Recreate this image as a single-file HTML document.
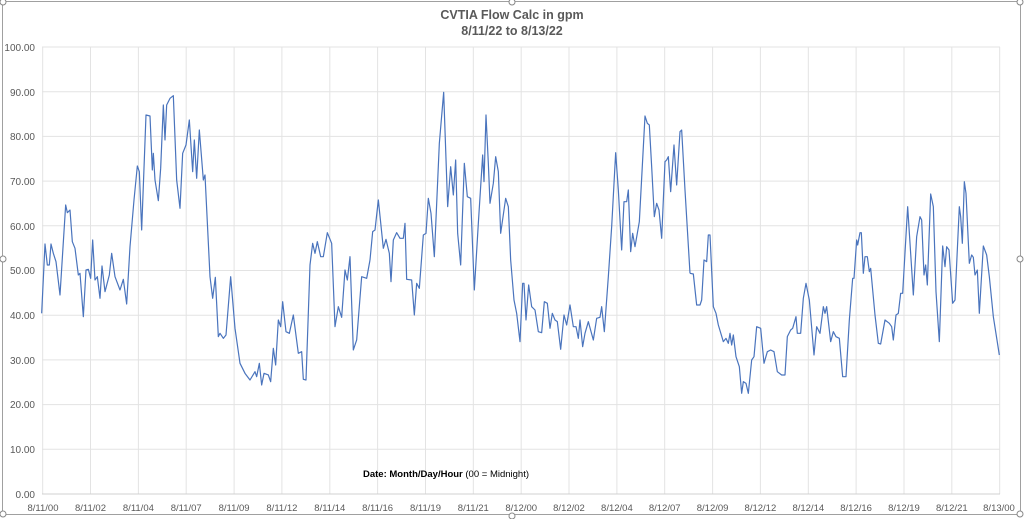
<!DOCTYPE html>
<html><head><style>
html,body{margin:0;padding:0;background:#fff;}
svg{display:block;font-family:"Liberation Sans",sans-serif;}
</style></head><body>
<svg width="1024" height="519" viewBox="0 0 1024 519">
<rect x="0" y="0" width="1024" height="519" fill="#fff"/>
<rect x="2.5" y="1.5" width="1018" height="513" fill="none" stroke="#a0a0a0" stroke-width="1"/>
<g stroke="#e3e3e3" stroke-width="1">
<line x1="42" y1="47" x2="1000" y2="47"/><line x1="42" y1="91.7" x2="1000" y2="91.7"/><line x1="42" y1="136.4" x2="1000" y2="136.4"/><line x1="42" y1="181.1" x2="1000" y2="181.1"/><line x1="42" y1="225.8" x2="1000" y2="225.8"/><line x1="42" y1="270.5" x2="1000" y2="270.5"/><line x1="42" y1="315.2" x2="1000" y2="315.2"/><line x1="42" y1="359.9" x2="1000" y2="359.9"/><line x1="42" y1="404.6" x2="1000" y2="404.6"/><line x1="42" y1="449.3" x2="1000" y2="449.3"/>
<line x1="42.7" y1="47" x2="42.7" y2="494"/><line x1="90.5" y1="47" x2="90.5" y2="494"/><line x1="138.4" y1="47" x2="138.4" y2="494"/><line x1="186.2" y1="47" x2="186.2" y2="494"/><line x1="234.1" y1="47" x2="234.1" y2="494"/><line x1="281.9" y1="47" x2="281.9" y2="494"/><line x1="329.8" y1="47" x2="329.8" y2="494"/><line x1="377.6" y1="47" x2="377.6" y2="494"/><line x1="425.5" y1="47" x2="425.5" y2="494"/><line x1="473.3" y1="47" x2="473.3" y2="494"/><line x1="521.2" y1="47" x2="521.2" y2="494"/><line x1="569" y1="47" x2="569" y2="494"/><line x1="616.9" y1="47" x2="616.9" y2="494"/><line x1="664.7" y1="47" x2="664.7" y2="494"/><line x1="712.6" y1="47" x2="712.6" y2="494"/><line x1="760.4" y1="47" x2="760.4" y2="494"/><line x1="808.3" y1="47" x2="808.3" y2="494"/><line x1="856.1" y1="47" x2="856.1" y2="494"/><line x1="904" y1="47" x2="904" y2="494"/><line x1="951.8" y1="47" x2="951.8" y2="494"/><line x1="999.7" y1="47" x2="999.7" y2="494"/>
</g>
<line x1="42" y1="494" x2="1000" y2="494" stroke="#d0d0d0"/>
<text x="512" y="19" text-anchor="middle" font-size="12.5" font-weight="bold" fill="#595959">CVTIA Flow Calc in gpm</text>
<text x="512" y="35" text-anchor="middle" font-size="12.5" font-weight="bold" fill="#595959">8/11/22 to 8/13/22</text>
<g font-size="10" fill="#595959" text-anchor="end">
<text x="35" y="51">100.00</text><text x="35" y="96">90.00</text><text x="35" y="140">80.00</text><text x="35" y="185">70.00</text><text x="35" y="230">60.00</text><text x="35" y="274">50.00</text><text x="35" y="319">40.00</text><text x="35" y="364">30.00</text><text x="35" y="408">20.00</text><text x="35" y="453">10.00</text><text x="35" y="498">0.00</text>
</g>
<g font-size="9.5" fill="#595959" text-anchor="middle">
<text x="43" y="511">8/11/00</text><text x="90.5" y="511">8/11/02</text><text x="138.4" y="511">8/11/04</text><text x="186.2" y="511">8/11/07</text><text x="234.1" y="511">8/11/09</text><text x="281.9" y="511">8/11/12</text><text x="329.8" y="511">8/11/14</text><text x="377.6" y="511">8/11/16</text><text x="425.5" y="511">8/11/19</text><text x="473.3" y="511">8/11/21</text><text x="521.2" y="511">8/12/00</text><text x="569" y="511">8/12/02</text><text x="616.9" y="511">8/12/04</text><text x="664.7" y="511">8/12/07</text><text x="712.6" y="511">8/12/09</text><text x="760.4" y="511">8/12/12</text><text x="808.3" y="511">8/12/14</text><text x="856.1" y="511">8/12/16</text><text x="904" y="511">8/12/19</text><text x="951.8" y="511">8/12/21</text><text x="999" y="511">8/13/00</text>
</g>
<text x="363" y="477" font-size="9.5" fill="#000"><tspan font-weight="bold">Date: Month/Day/Hour</tspan> (00 = Midnight)</text>
<g fill="none" stroke="#4a74bd" stroke-width="1.2" stroke-linejoin="round">
<g transform="translate(40,80) scale(0.33333)"><polyline vector-effect="non-scaling-stroke" points="5,700 15,492 22,555 28,555 33,492 40,520 48,545 60,645 77,375 82,398 90,390 97,485 105,505 115,585 120,580 130,710 138,570 145,568 152,595 158,480 165,600 172,590 180,655 186,558 195,635 208,585 215,520 225,590 240,630 250,598 260,672 270,500 282,360 292,258 298,275 305,450 318,105 330,108 337,270 340,220 345,300 355,362 362,265 370,75 375,180 380,75 390,55 400,47 410,300 420,385 428,220 438,195 448,120 458,275 463,180 470,295 478,150 490,300 495,285 510,590 518,655 526,592 535,770 540,760 550,775 558,765 572,590 585,745 600,850 615,880 630,900 645,875 650,890 658,850 665,915 672,880 685,885 692,905 700,805 707,855 715,720 722,740 728,665 738,755 748,760 760,705 775,820 785,815 790,898 798,900 810,555 818,490 825,520 832,485 842,530 850,530 862,458 875,490 885,740 895,680 905,712 915,570 922,600 930,530 940,810 950,780 965,590 980,595 990,540"/></g>
<g transform="translate(360,80) scale(0.33333)"><polyline vector-effect="non-scaling-stroke" points="30,540 38,455 45,450 55,360 70,505 78,478 88,520 93,605 100,480 110,458 120,475 130,475 135,430 140,598 155,600 163,705 170,610 178,625 190,465 198,460 205,355 213,400 223,530 238,190 251,37 263,380 272,260 280,345 287,240 293,460 302,555 313,250 322,350 332,355 343,630 355,430 368,225 372,305 378,105 385,250 390,370 400,310 407,230 415,275 422,460 437,355 445,380 452,540 462,660 470,700 480,785 488,610 492,610 498,720 506,615 515,680 525,690 535,755 545,758 553,665 562,670 570,745 577,700 585,720 592,725 602,808 612,705 620,735 630,675 640,740 648,740 655,775 660,720 668,800 675,760 685,725 700,780 710,715 720,712 725,680 733,755 745,590 755,440 767,218 775,330 785,510 792,365 800,365 805,330 812,515 818,460 825,500 838,425 855,108 862,130 868,135 875,260 883,410 890,370 897,390 905,475 915,245 920,240 925,230 932,335 942,195 950,315 960,155 965,150 975,330 990,580"/></g>
<g transform="translate(680,140) scale(0.33333)"><polyline vector-effect="non-scaling-stroke" points="30,400 40,402 50,495 60,495 65,480 72,360 80,365 85,285 90,285 100,500 108,520 115,555 130,605 138,595 145,610 150,580 155,615 160,585 168,650 178,680 185,760 190,725 198,730 205,760 215,660 222,650 230,560 242,565 252,670 262,635 272,630 282,635 292,695 305,705 315,705 322,590 332,570 338,565 348,530 352,580 362,580 370,475 378,430 388,480 402,645 410,560 420,580 430,500 435,520 440,500 452,605 460,575 468,590 478,595 488,710 498,710 508,540 518,415 522,415 530,300 533,315 540,278 544,278 550,400 555,350 562,350 568,395 572,385 585,525 595,610 602,612 615,540 628,550 635,560 640,600 648,525 655,520 662,460 668,460 683,200 700,465 710,290 720,230 725,240 732,405 737,375 742,435 752,162 760,200 768,455 778,605 788,318 795,380 800,320 807,330 818,490 825,480 838,200 842,230 847,310 853,125 858,160 868,370 875,345 880,352 885,405 892,390 898,520 910,318 920,345 928,410 940,530 958,645"/></g>
</g>
<g fill="#fff" stroke="#888" stroke-width="1"><circle cx="3" cy="2" r="3"/><circle cx="1020" cy="2" r="3"/><circle cx="3" cy="514" r="3"/><circle cx="1020" cy="514" r="3"/><circle cx="512" cy="2" r="3"/><circle cx="512" cy="516" r="3"/><circle cx="3" cy="259" r="3"/><circle cx="1020" cy="259" r="3"/></g>
</svg>
</body></html>
